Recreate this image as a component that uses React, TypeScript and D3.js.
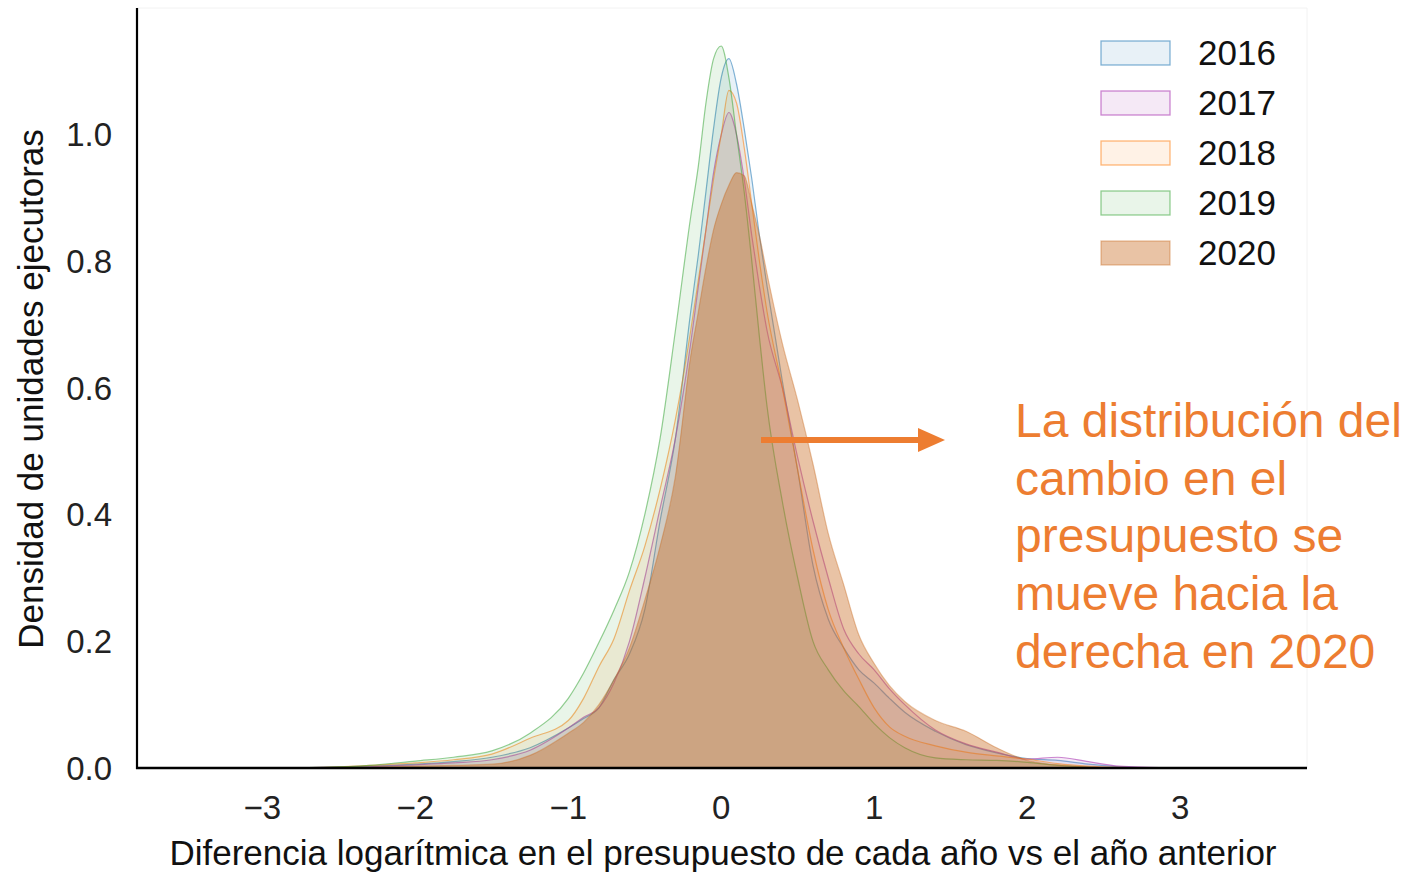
import React from 'react';
import * as d3 from 'd3';

// ---- data ----
const xGrid = [-3.8, -3.0, -2.6, -2.3, -2.0, -1.75, -1.5, -1.25, -1.0, -0.9, -0.8, -0.7, -0.6, -0.5, -0.4, -0.3, -0.2, -0.15, -0.1, -0.05, 0, 0.05, 0.1, 0.15, 0.2, 0.25, 0.3, 0.4, 0.5, 0.6, 0.7, 0.8, 0.9, 1.0, 1.1, 1.2, 1.4, 1.6, 1.8, 2.0, 2.2, 2.4, 2.6, 2.8, 3.0, 3.8];

const dens2016 = [0, 0, 0.001, 0.003, 0.006, 0.01, 0.017, 0.032, 0.063, 0.078, 0.095, 0.14, 0.18, 0.25, 0.39, 0.52, 0.72, 0.81, 0.91, 1.01, 1.09, 1.12, 1.08, 1.01, 0.93, 0.84, 0.76, 0.61, 0.47, 0.32, 0.235, 0.19, 0.155, 0.134, 0.11, 0.088, 0.058, 0.037, 0.024, 0.015, 0.012, 0.006, 0.002, 0.0005, 0, 0];
const dens2017 = [0, 0, 0.001, 0.002, 0.005, 0.008, 0.013, 0.028, 0.063, 0.08, 0.095, 0.135, 0.2, 0.3, 0.41, 0.52, 0.67, 0.76, 0.85, 0.94, 1.0, 1.035, 1.0, 0.93, 0.84, 0.76, 0.69, 0.6, 0.49, 0.39, 0.3, 0.22, 0.18, 0.155, 0.125, 0.1, 0.06, 0.038, 0.025, 0.014, 0.017, 0.01, 0.003, 0.001, 0, 0];
const dens2018 = [0, 0, 0.001, 0.004, 0.008, 0.013, 0.022, 0.047, 0.075, 0.11, 0.16, 0.205, 0.28, 0.35, 0.44, 0.55, 0.69, 0.77, 0.85, 0.93, 1.0, 1.07, 1.05, 0.98, 0.89, 0.8, 0.72, 0.6, 0.47, 0.345, 0.25, 0.19, 0.14, 0.095, 0.065, 0.05, 0.035, 0.025, 0.019, 0.014, 0.007, 0.003, 0.001, 0, 0, 0];
const dens2019 = [0, 0, 0.001, 0.004, 0.011, 0.017, 0.027, 0.055, 0.11, 0.15, 0.198, 0.25, 0.31, 0.4, 0.52, 0.69, 0.87, 0.95, 1.05, 1.12, 1.14, 1.09, 1.0, 0.91, 0.8, 0.68, 0.57, 0.42, 0.3, 0.2, 0.155, 0.122, 0.097, 0.07, 0.048, 0.032, 0.016, 0.013, 0.012, 0.009, 0.004, 0.001, 0, 0, 0, 0];
const dens2020 = [0, 0, 0, 0.001, 0.003, 0.004, 0.006, 0.02, 0.055, 0.072, 0.1, 0.14, 0.19, 0.265, 0.35, 0.46, 0.65, 0.72, 0.79, 0.85, 0.89, 0.92, 0.94, 0.935, 0.89, 0.84, 0.78, 0.67, 0.58, 0.48, 0.37, 0.29, 0.21, 0.165, 0.13, 0.105, 0.075, 0.058, 0.032, 0.012, 0.005, 0.002, 0, 0, 0, 0];

const years = ['2016', '2017', '2018', '2019', '2020'];
const xTicks = [-3, -2, -1, 0, 1, 2, 3];
const yTicks = [0, 0.2, 0.4, 0.6, 0.8, 1.0];
const xLabel = 'Diferencia logarítmica en el presupuesto de cada año vs el año anterior';
const yLabel = 'Densidad de unidades ejecutoras';
const noteLines = ['La distribución del', 'cambio en el', 'presupuesto se', 'mueve hacia la', 'derecha en 2020'];

const seriesData = [dens2016, dens2017, dens2018, dens2019, dens2020];
const seriesStyle = [
  { color: '#1f77b4', fillOp: 0.1, lineOp: 0.55 },
  { color: '#b048b8', fillOp: 0.12, lineOp: 0.65 },
  { color: '#ff7f0e', fillOp: 0.1, lineOp: 0.55 },
  { color: '#2ca02c', fillOp: 0.1, lineOp: 0.5 },
  { color: '#c8691e', fillOp: 0.4, lineOp: 0.4 },
];

const FONT = '"Liberation Sans", Arial, Helvetica, sans-serif';
const ORANGE = '#ed7d31';

export default function App() {
  const W = 1407;
  const H = 872;
  const left = 137, right = 1307, top = 8, bottom = 768;
  const x = d3.scaleLinear().domain([-3.82, 3.83]).range([left, right]);
  const y = d3.scaleLinear().domain([0, 1.2]).range([bottom, top]);

  const area = d3
    .area<number>()
    .x((_, i) => x(xGrid[i]))
    .y0(y(0))
    .y1((d) => y(d))
    .curve(d3.curveMonotoneX);
  const line = d3
    .line<number>()
    .x((_, i) => x(xGrid[i]))
    .y((d) => y(d))
    .curve(d3.curveMonotoneX);

  const legendX = 1101;
  const legendY0 = 41;
  const legendStep = 50;

  return (
    <svg
      width={W}
      height={H}
      viewBox={`0 0 ${W} ${H}`}
      style={{ position: 'absolute', left: 0, top: 0, background: '#fff' }}
      fontFamily={FONT}
    >
      <rect x={0} y={0} width={W} height={H} fill="#fff" />
      {/* faint frame */}
      <line x1={left} x2={right} y1={top} y2={top} stroke="#f2f2f2" strokeWidth={1} />
      <line x1={right} x2={right} y1={top} y2={bottom} stroke="#f2f2f2" strokeWidth={1} />

      {seriesData.map((d, i) => (
        <g key={years[i]}>
          <path d={area(d) || ''} fill={seriesStyle[i].color} fillOpacity={seriesStyle[i].fillOp} />
          <path
            d={line(d) || ''}
            fill="none"
            stroke={seriesStyle[i].color}
            strokeOpacity={seriesStyle[i].lineOp}
            strokeWidth={1.2}
          />
        </g>
      ))}

      {/* axes */}
      <line x1={left} x2={left} y1={top} y2={bottom + 1} stroke="#000" strokeWidth={2.2} />
      <line x1={left - 1} x2={right} y1={bottom} y2={bottom} stroke="#000" strokeWidth={2.5} />

      {yTicks.map((t) => (
        <text key={t} x={112} y={y(t)} textAnchor="end" dominantBaseline="central" fontSize={33} fill="#222">
          {t.toFixed(1)}
        </text>
      ))}
      {xTicks.map((t) => (
        <text key={t} x={x(t)} y={819} textAnchor="middle" fontSize={33} fill="#222">
          {t < 0 ? `\u2212${Math.abs(t)}` : `${t}`}
        </text>
      ))}
      <text x={723} y={865} textAnchor="middle" fontSize={35} fill="#111">
        {xLabel}
      </text>
      <text
        transform={`translate(43, ${389}) rotate(-90)`}
        textAnchor="middle"
        fontSize={35}
        fill="#111"
      >
        {yLabel}
      </text>

      {/* legend */}
      {years.map((yr, i) => (
        <g key={yr}>
          <rect
            x={legendX}
            y={legendY0 + i * legendStep}
            width={69}
            height={24}
            fill={seriesStyle[i].color}
            fillOpacity={seriesStyle[i].fillOp}
            stroke={seriesStyle[i].color}
            strokeOpacity={seriesStyle[i].lineOp}
            strokeWidth={1.3}
          />
          <text x={1198} y={legendY0 + i * legendStep + 11.5} dominantBaseline="central" fontSize={35} fill="#111">
            {yr}
          </text>
        </g>
      ))}

      {/* annotation */}
      <line x1={761} x2={922} y1={440} y2={440} stroke={ORANGE} strokeWidth={6} />
      <path d="M918,428 L945,440 L918,452 Z" fill={ORANGE} />
      {noteLines.map((s, i) => (
        <text key={s} x={1015} y={437 + i * 57.7} fontSize={48} fill={ORANGE}>
          {s}
        </text>
      ))}
    </svg>
  );
}
